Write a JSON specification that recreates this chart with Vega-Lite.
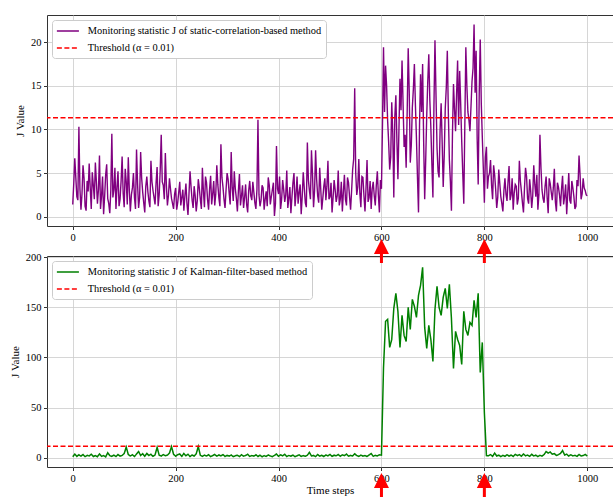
{
"$schema": "https://vega.github.io/schema/vega-lite/v6.json",
"background": "white",
"padding": {"left": 8, "top": 14, "right": 0, "bottom": 0},
"autosize": "pad",
"config": {
  "font": "Liberation Serif",
  "view": {"stroke": "#333", "strokeWidth": 1},
  "axis": {"grid": true, "gridColor": "#cccccc", "gridWidth": 0.8, "domain": false, "tickColor": "#333", "tickSize": 3.5, "labelFont": "Liberation Serif", "labelFontSize": 10.5, "labelColor": "#000", "labelPadding": 2.5, "titleFont": "Liberation Serif", "titleFontSize": 11, "titleFontWeight": "normal", "titleColor": "#000", "titlePadding": 5, "format": "d"},
  "legend": {"orient": "none", "legendX": 5, "legendY": 5, "fillColor": "white", "strokeColor": "#cccccc", "cornerRadius": 3, "padding": 4, "symbolType": "M-1,0H2.6", "symbolSize": 150, "symbolStrokeWidth": 1.5, "labelFont": "Liberation Serif", "labelFontSize": 10.4, "labelColor": "#000", "labelLimit": 400, "labelOffset": 17.75, "rowPadding": 4}
},
"datasets": {
  "d": [
{"t":0,"s":1.4,"k":0.8},{"t":4,"s":6.7,"k":3.5},{"t":8,"s":2.3,"k":1.2},{"t":12,"s":10.3,"k":2.8},{"t":16,"s":0.8,"k":1.5},{"t":20,"s":5.9,"k":3.0},{"t":24,"s":1.2,"k":1.0},{"t":28,"s":4.1,"k":2.2},{"t":32,"s":6.1,"k":1.6},{"t":36,"s":0.9,"k":3.4},
{"t":40,"s":3.6,"k":1.1},{"t":44,"s":6.2,"k":2.0},{"t":48,"s":1.5,"k":0.9},{"t":52,"s":7.0,"k":3.6},{"t":56,"s":2.4,"k":1.3},{"t":60,"s":0.3,"k":1.9},{"t":64,"s":4.8,"k":0.7},{"t":68,"s":2.1,"k":4.8},{"t":72,"s":0.4,"k":2.0},{"t":76,"s":9.5,"k":1.2},
{"t":80,"s":3.1,"k":2.5},{"t":84,"s":0.9,"k":1.0},{"t":88,"s":5.2,"k":3.1},{"t":92,"s":2.0,"k":1.4},{"t":96,"s":6.9,"k":2.2},{"t":100,"s":1.1,"k":4.0},{"t":104,"s":4.0,"k":10.5},{"t":108,"s":6.8,"k":3.0},{"t":112,"s":0.6,"k":1.6},{"t":116,"s":3.3,"k":2.8},
{"t":120,"s":2.2,"k":1.1},{"t":124,"s":7.7,"k":3.5},{"t":128,"s":1.0,"k":6.0},{"t":132,"s":7.4,"k":2.1},{"t":136,"s":2.8,"k":3.9},{"t":140,"s":0.5,"k":1.3},{"t":144,"s":4.6,"k":4.2},{"t":148,"s":1.8,"k":2.0},{"t":152,"s":6.4,"k":3.3},{"t":156,"s":3.0,"k":1.2},
{"t":160,"s":1.4,"k":2.7},{"t":164,"s":5.7,"k":10.2},{"t":168,"s":2.5,"k":2.4},{"t":172,"s":9.4,"k":1.5},{"t":176,"s":3.6,"k":3.0},{"t":180,"s":7.3,"k":1.9},{"t":184,"s":1.3,"k":2.4},{"t":188,"s":4.4,"k":4.5},{"t":192,"s":2.1,"k":11.0},{"t":196,"s":0.9,"k":3.2},
{"t":200,"s":3.3,"k":1.4},{"t":204,"s":1.6,"k":2.9},{"t":208,"s":4.0,"k":3.6},{"t":212,"s":2.2,"k":1.2},{"t":216,"s":0.7,"k":4.1},{"t":220,"s":3.8,"k":1.8},{"t":224,"s":0.2,"k":3.4},{"t":228,"s":5.2,"k":1.0},{"t":232,"s":1.9,"k":2.6},{"t":236,"s":3.5,"k":1.5},
{"t":240,"s":0.6,"k":3.8},{"t":244,"s":4.3,"k":11.0},{"t":248,"s":2.0,"k":2.3},{"t":252,"s":5.6,"k":1.2},{"t":256,"s":1.1,"k":2.4},{"t":260,"s":3.9,"k":1.6},{"t":264,"s":0.8,"k":2.9},{"t":268,"s":4.7,"k":0.9},{"t":272,"s":2.6,"k":2.0},{"t":276,"s":1.3,"k":3.1},
{"t":280,"s":5.9,"k":1.4},{"t":284,"s":2.2,"k":2.7},{"t":288,"s":8.3,"k":1.6},{"t":292,"s":3.4,"k":3.0},{"t":296,"s":1.0,"k":1.1},{"t":300,"s":5.0,"k":2.2},{"t":304,"s":2.7,"k":1.5},{"t":308,"s":7.4,"k":2.6},{"t":312,"s":1.8,"k":0.9},{"t":316,"s":3.2,"k":1.8},
{"t":320,"s":0.6,"k":2.3},{"t":324,"s":4.9,"k":1.0},{"t":328,"s":2.4,"k":2.9},{"t":332,"s":1.0,"k":1.4},{"t":336,"s":3.7,"k":2.1},{"t":340,"s":0.5,"k":3.4},{"t":344,"s":4.1,"k":1.2},{"t":348,"s":1.9,"k":2.0},{"t":352,"s":2.8,"k":1.5},{"t":356,"s":0.9,"k":2.8},
{"t":360,"s":11.1,"k":1.1},{"t":364,"s":1.2,"k":2.4},{"t":368,"s":3.6,"k":0.8},{"t":372,"s":0.8,"k":1.9},{"t":376,"s":2.9,"k":1.2},{"t":380,"s":4.5,"k":2.6},{"t":384,"s":1.4,"k":1.6},{"t":388,"s":3.1,"k":1.0},{"t":392,"s":0.1,"k":2.2},{"t":396,"s":8.1,"k":3.6},
{"t":400,"s":2.6,"k":1.3},{"t":404,"s":0.9,"k":2.8},{"t":408,"s":4.2,"k":1.7},{"t":412,"s":1.7,"k":3.3},{"t":416,"s":5.3,"k":1.0},{"t":420,"s":2.1,"k":2.1},{"t":424,"s":0.4,"k":1.4},{"t":428,"s":3.9,"k":2.5},{"t":432,"s":1.2,"k":0.9},{"t":436,"s":4.6,"k":1.8},
{"t":440,"s":2.8,"k":2.7},{"t":444,"s":0.3,"k":1.2},{"t":448,"s":5.1,"k":2.0},{"t":452,"s":1.6,"k":1.3},{"t":456,"s":8.5,"k":2.4},{"t":460,"s":3.0,"k":5.2},{"t":464,"s":7.6,"k":1.6},{"t":468,"s":1.1,"k":2.2},{"t":472,"s":7.6,"k":1.0},{"t":476,"s":2.4,"k":3.0},
{"t":480,"s":5.6,"k":1.5},{"t":484,"s":0.8,"k":2.3},{"t":488,"s":3.5,"k":1.1},{"t":492,"s":1.9,"k":2.6},{"t":496,"s":6.4,"k":1.7},{"t":500,"s":2.3,"k":3.2},{"t":504,"s":0.5,"k":1.2},{"t":508,"s":4.2,"k":2.4},{"t":512,"s":1.7,"k":1.8},{"t":516,"s":5.3,"k":3.1},
{"t":520,"s":2.0,"k":1.3},{"t":524,"s":0.6,"k":2.7},{"t":528,"s":4.8,"k":1.9},{"t":532,"s":1.3,"k":3.5},{"t":536,"s":3.9,"k":1.4},{"t":540,"s":0.8,"k":2.2},{"t":544,"s":5.4,"k":1.6},{"t":548,"s":14.7,"k":3.8},{"t":552,"s":2.5,"k":2.0},{"t":556,"s":6.6,"k":1.2},
{"t":560,"s":1.1,"k":2.5},{"t":564,"s":4.5,"k":1.5},{"t":568,"s":0.6,"k":2.0},{"t":572,"s":6.5,"k":1.1},{"t":576,"s":2.2,"k":2.6},{"t":580,"s":0.9,"k":4.0},{"t":584,"s":4.0,"k":1.3},{"t":588,"s":1.3,"k":2.2},{"t":592,"s":5.2,"k":1.6},{"t":596,"s":0.5,"k":2.8},
{"t":600,"s":3.2,"k":2.5},{"t":604,"s":19.4,"k":90},{"t":608,"s":17.3,"k":136},{"t":612,"s":11.0,"k":138},{"t":616,"s":5.4,"k":110},{"t":620,"s":13.1,"k":118},{"t":624,"s":2.2,"k":149},{"t":628,"s":13.9,"k":164},{"t":632,"s":4.3,"k":146},{"t":636,"s":15.8,"k":110},
{"t":640,"s":17.9,"k":142},{"t":644,"s":8.0,"k":122},{"t":648,"s":5.6,"k":116},{"t":652,"s":19.3,"k":150},{"t":656,"s":6.2,"k":128},{"t":660,"s":12.5,"k":158},{"t":664,"s":17.5,"k":151},{"t":668,"s":9.0,"k":140},{"t":672,"s":0.5,"k":162},{"t":676,"s":16.3,"k":172},
{"t":680,"s":17.5,"k":190},{"t":684,"s":2.0,"k":130},{"t":688,"s":11.6,"k":109},{"t":692,"s":18.6,"k":132},{"t":696,"s":10.2,"k":118},{"t":700,"s":2.2,"k":96},{"t":704,"s":20.2,"k":148},{"t":708,"s":7.9,"k":171},{"t":712,"s":4.5,"k":150},{"t":716,"s":13.0,"k":142},
{"t":720,"s":3.4,"k":160},{"t":724,"s":12.4,"k":169},{"t":728,"s":19.0,"k":149},{"t":732,"s":6.5,"k":173},{"t":736,"s":0.7,"k":139},{"t":740,"s":15.2,"k":89},{"t":744,"s":9.8,"k":126},{"t":748,"s":17.9,"k":118},{"t":752,"s":16.7,"k":112},{"t":756,"s":8.6,"k":93},
{"t":760,"s":1.5,"k":146},{"t":764,"s":19.4,"k":128},{"t":768,"s":12.0,"k":122},{"t":772,"s":9.8,"k":135},{"t":776,"s":15.5,"k":132},{"t":780,"s":22.0,"k":157},{"t":784,"s":19.0,"k":140},{"t":788,"s":3.7,"k":164},{"t":792,"s":20.3,"k":85},{"t":796,"s":9.1,"k":115},
{"t":800,"s":1.6,"k":45},{"t":804,"s":8.0,"k":2.0},{"t":808,"s":4.6,"k":1.8},{"t":812,"s":6.5,"k":3.0},{"t":816,"s":2.0,"k":1.2},{"t":820,"s":4.8,"k":4.5},{"t":824,"s":1.0,"k":1.6},{"t":828,"s":5.4,"k":2.4},{"t":832,"s":2.3,"k":1.0},{"t":836,"s":0.6,"k":2.2},
{"t":840,"s":4.4,"k":1.3},{"t":844,"s":1.8,"k":2.8},{"t":848,"s":5.8,"k":1.5},{"t":852,"s":2.5,"k":2.5},{"t":856,"s":0.8,"k":1.1},{"t":860,"s":3.7,"k":3.2},{"t":864,"s":1.4,"k":2.0},{"t":868,"s":6.4,"k":2.9},{"t":872,"s":2.9,"k":1.4},{"t":876,"s":0.5,"k":3.6},
{"t":880,"s":5.6,"k":1.8},{"t":884,"s":2.1,"k":2.5},{"t":888,"s":4.3,"k":1.2},{"t":892,"s":1.0,"k":3.3},{"t":896,"s":5.9,"k":1.6},{"t":900,"s":2.3,"k":2.4},{"t":904,"s":0.8,"k":1.0},{"t":908,"s":9.4,"k":2.2},{"t":912,"s":3.1,"k":1.5},{"t":916,"s":1.6,"k":3.0},
{"t":920,"s":4.6,"k":6.0},{"t":924,"s":0.4,"k":4.5},{"t":928,"s":3.8,"k":5.6},{"t":932,"s":1.9,"k":3.4},{"t":936,"s":5.5,"k":4.0},{"t":940,"s":0.6,"k":2.1},{"t":944,"s":3.4,"k":3.0},{"t":948,"s":1.2,"k":4.2},{"t":952,"s":4.7,"k":7.0},{"t":956,"s":2.3,"k":2.6},
{"t":960,"s":0.3,"k":3.4},{"t":964,"s":5.0,"k":1.5},{"t":968,"s":1.5,"k":2.8},{"t":972,"s":3.3,"k":1.7},{"t":976,"s":0.9,"k":2.3},{"t":980,"s":4.2,"k":1.2},{"t":984,"s":7.0,"k":3.1},{"t":988,"s":2.0,"k":1.6},{"t":992,"s":4.4,"k":2.0},{"t":996,"s":3.0,"k":3.2},
{"t":1000,"s":2.4,"k":1.5},
{"t":2,"s":3.8},{"t":6,"s":4.5},{"t":10,"s":1.9},{"t":14,"s":3.2},{"t":18,"s":2.6},{"t":22,"s":4.4},{"t":26,"s":0.7},{"t":30,"s":2.9},{"t":34,"s":3.3},{"t":38,"s":5.1},
{"t":42,"s":2.0},{"t":46,"s":4.0},{"t":50,"s":3.1},{"t":54,"s":0.9},{"t":58,"s":4.6},{"t":62,"s":2.3},{"t":66,"s":6.0},{"t":70,"s":1.5},{"t":74,"s":3.0},{"t":78,"s":2.2},
{"t":82,"s":5.6},{"t":86,"s":3.4},{"t":90,"s":1.2},{"t":94,"s":4.1},{"t":98,"s":2.7},{"t":102,"s":5.5},{"t":106,"s":1.4},{"t":110,"s":3.0},{"t":114,"s":2.5},{"t":118,"s":5.0},
{"t":122,"s":0.9},{"t":126,"s":3.8},{"t":130,"s":2.2},{"t":134,"s":4.4},{"t":138,"s":1.6},{"t":142,"s":3.5},{"t":146,"s":2.9},{"t":150,"s":1.1},{"t":154,"s":4.0},{"t":158,"s":2.2},
{"t":162,"s":3.9},{"t":166,"s":1.2},{"t":170,"s":5.3},{"t":174,"s":4.0},{"t":178,"s":2.0},{"t":182,"s":3.6},{"t":186,"s":2.4},{"t":190,"s":3.2},{"t":194,"s":1.5},{"t":198,"s":2.6},
{"t":202,"s":0.8},{"t":206,"s":2.8},{"t":210,"s":1.3},{"t":214,"s":3.1},{"t":218,"s":2.4},{"t":222,"s":1.5},{"t":226,"s":2.7},{"t":230,"s":3.4},{"t":234,"s":1.0},{"t":238,"s":2.4},
{"t":242,"s":1.8},{"t":246,"s":3.3},{"t":250,"s":0.9},{"t":254,"s":2.9},{"t":258,"s":4.6},{"t":262,"s":2.0},{"t":266,"s":3.2},{"t":270,"s":1.4},{"t":274,"s":4.1},{"t":278,"s":2.6},
{"t":282,"s":3.7},{"t":286,"s":1.2},{"t":290,"s":4.5},{"t":294,"s":2.0},{"t":298,"s":3.1},{"t":302,"s":4.3},{"t":306,"s":1.4},{"t":310,"s":3.3},{"t":314,"s":5.2},{"t":318,"s":2.1},
{"t":322,"s":3.0},{"t":326,"s":1.3},{"t":330,"s":3.6},{"t":334,"s":2.2},{"t":338,"s":1.4},{"t":342,"s":3.0},{"t":346,"s":2.4},{"t":350,"s":4.0},{"t":354,"s":1.6},{"t":358,"s":3.1},
{"t":362,"s":2.5},{"t":366,"s":1.9},{"t":370,"s":3.3},{"t":374,"s":2.0},{"t":378,"s":1.2},{"t":382,"s":3.6},{"t":386,"s":2.3},{"t":390,"s":3.9},{"t":394,"s":1.5},{"t":398,"s":3.2},
{"t":402,"s":4.6},{"t":406,"s":2.0},{"t":410,"s":3.1},{"t":414,"s":2.5},{"t":418,"s":1.0},{"t":422,"s":3.4},{"t":426,"s":2.2},{"t":430,"s":5.0},{"t":434,"s":2.6},{"t":438,"s":1.5},
{"t":442,"s":3.7},{"t":446,"s":2.3},{"t":450,"s":3.3},{"t":454,"s":1.1},{"t":458,"s":4.2},{"t":462,"s":2.0},{"t":466,"s":4.9},{"t":470,"s":3.0},{"t":474,"s":4.3},{"t":478,"s":1.6},
{"t":482,"s":3.2},{"t":486,"s":2.1},{"t":490,"s":4.4},{"t":494,"s":3.5},{"t":498,"s":2.0},{"t":502,"s":3.9},{"t":506,"s":2.2},{"t":510,"s":3.1},{"t":514,"s":2.4},{"t":518,"s":1.3},
{"t":522,"s":4.0},{"t":526,"s":2.8},{"t":530,"s":2.0},{"t":534,"s":4.5},{"t":538,"s":2.3},{"t":542,"s":3.0},{"t":546,"s":6.6},{"t":550,"s":5.0},{"t":554,"s":3.4},{"t":558,"s":2.7},
{"t":562,"s":4.6},{"t":566,"s":2.4},{"t":570,"s":3.3},{"t":574,"s":1.7},{"t":578,"s":4.1},{"t":582,"s":3.2},{"t":586,"s":2.4},{"t":590,"s":3.6},{"t":594,"s":2.5},{"t":598,"s":4.2},
{"t":602,"s":10.5},{"t":606,"s":12.0},{"t":610,"s":15.0},{"t":614,"s":8.5},{"t":618,"s":6.8},{"t":622,"s":9.6},{"t":626,"s":11.5},{"t":630,"s":8.8},{"t":634,"s":10.0},{"t":638,"s":12.2},
{"t":642,"s":13.0},{"t":646,"s":9.4},{"t":650,"s":12.0},{"t":654,"s":14.3},{"t":658,"s":8.2},{"t":662,"s":14.6},{"t":666,"s":12.8},{"t":670,"s":4.5},{"t":674,"s":10.5},{"t":678,"s":12.0},
{"t":682,"s":8.7},{"t":686,"s":6.5},{"t":690,"s":15.5},{"t":694,"s":13.4},{"t":698,"s":6.0},{"t":702,"s":12.7},{"t":706,"s":14.0},{"t":710,"s":5.2},{"t":714,"s":10.0},{"t":718,"s":8.5},
{"t":722,"s":7.0},{"t":726,"s":14.8},{"t":730,"s":11.9},{"t":734,"s":4.0},{"t":738,"s":9.5},{"t":742,"s":12.3},{"t":746,"s":14.0},{"t":750,"s":10.5},{"t":754,"s":12.9},{"t":758,"s":5.0},
{"t":762,"s":10.4},{"t":766,"s":15.0},{"t":770,"s":11.1},{"t":774,"s":12.6},{"t":778,"s":17.0},{"t":782,"s":14.2},{"t":786,"s":9.0},{"t":790,"s":14.0},{"t":794,"s":13.0},{"t":798,"s":5.5},
{"t":802,"s":6.8},{"t":806,"s":3.2},{"t":810,"s":5.0},{"t":814,"s":3.6},{"t":818,"s":5.9},{"t":822,"s":3.1},{"t":826,"s":2.2},{"t":830,"s":3.8},{"t":834,"s":1.5},{"t":838,"s":3.0},
{"t":842,"s":2.6},{"t":846,"s":4.0},{"t":850,"s":1.9},{"t":854,"s":4.4},{"t":858,"s":2.7},{"t":862,"s":3.5},{"t":866,"s":2.1},{"t":870,"s":4.1},{"t":874,"s":1.6},{"t":878,"s":3.3},
{"t":882,"s":4.6},{"t":886,"s":1.5},{"t":890,"s":3.0},{"t":894,"s":2.4},{"t":898,"s":3.7},{"t":902,"s":4.8},{"t":906,"s":2.5},{"t":910,"s":5.6},{"t":914,"s":2.1},{"t":918,"s":3.5},
{"t":922,"s":2.2},{"t":926,"s":4.4},{"t":930,"s":2.8},{"t":934,"s":3.3},{"t":938,"s":1.7},{"t":942,"s":3.9},{"t":946,"s":2.5},{"t":950,"s":3.2},{"t":954,"s":1.4},{"t":958,"s":3.7},
{"t":962,"s":2.6},{"t":966,"s":1.9},{"t":970,"s":4.1},{"t":974,"s":2.3},{"t":978,"s":1.2},{"t":982,"s":3.5},{"t":986,"s":4.8},{"t":990,"s":2.6},{"t":994,"s":3.3},{"t":998,"s":2.5}
  ],
  "arrows": [{"t": 600}, {"t": 800}],
  "thr": [{"thr": 11.34}]
},
"spacing": 30,
"bounds": "flush",
"resolve": {"scale": {"color": "independent", "strokeDash": "independent"}, "legend": {"color": "independent", "strokeDash": "independent"}},
"vconcat": [
  {
    "width": 566, "height": 211,
    "layer": [
      {
        "data": {"name": "d"},
        "mark": {"type": "line", "strokeWidth": 1.4},
        "encoding": {
          "x": {"field": "t", "type": "quantitative", "scale": {"domain": [-50, 1050], "nice": false, "zero": false}, "axis": {"values": [0, 200, 400, 600, 800, 1000], "title": null}},
          "y": {"field": "s", "type": "quantitative", "scale": {"domain": [-1.06, 23.1], "nice": false, "zero": false}, "axis": {"values": [0, 5, 10, 15, 20], "title": "J Value"}},
          "color": {"datum": "Monitoring statistic J of static-correlation-based method", "type": "nominal", "scale": {"domain": ["Monitoring statistic J of static-correlation-based method", "Threshold (α = 0.01)"], "range": ["#800080", "#ff0000"]}, "legend": {"title": null}},
          "strokeDash": {"datum": "Monitoring statistic J of static-correlation-based method", "type": "nominal", "scale": {"domain": ["Monitoring statistic J of static-correlation-based method", "Threshold (α = 0.01)"], "range": [[1, 0], [5, 2.5]]}, "legend": {"title": null}}
        }
      },
      {
        "data": {"name": "thr"},
        "mark": {"type": "rule", "strokeWidth": 1.5},
        "encoding": {
          "y": {"field": "thr", "type": "quantitative"},
          "color": {"datum": "Threshold (α = 0.01)", "type": "nominal"},
          "strokeDash": {"datum": "Threshold (α = 0.01)", "type": "nominal"}
        }
      }
    ]
  },
  {
    "width": 566, "height": 211,
    "layer": [
      {
        "data": {"name": "d"},
        "transform": [{"filter": "isValid(datum.k)"}],
        "mark": {"type": "line", "strokeWidth": 1.5},
        "encoding": {
          "x": {"field": "t", "type": "quantitative", "scale": {"domain": [-50, 1050], "nice": false, "zero": false}, "axis": {"values": [0, 200, 400, 600, 800, 1000], "title": "Time steps", "titlePadding": 1}},
          "y": {"field": "k", "type": "quantitative", "scale": {"domain": [-9.4, 201.3], "nice": false, "zero": false}, "axis": {"values": [0, 25, 50, 75, 100, 125, 150, 175, 200], "title": "J Value"}},
          "color": {"datum": "Monitoring statistic J of Kalman-filter-based method", "type": "nominal", "scale": {"domain": ["Monitoring statistic J of Kalman-filter-based method", "Threshold (α = 0.01)"], "range": ["#008000", "#ff0000"]}, "legend": {"title": null}},
          "strokeDash": {"datum": "Monitoring statistic J of Kalman-filter-based method", "type": "nominal", "scale": {"domain": ["Monitoring statistic J of Kalman-filter-based method", "Threshold (α = 0.01)"], "range": [[1, 0], [5, 2.5]]}, "legend": {"title": null}}
        }
      },
      {
        "data": {"name": "thr"},
        "mark": {"type": "rule", "strokeWidth": 1.5},
        "encoding": {
          "y": {"field": "thr", "type": "quantitative"},
          "color": {"datum": "Threshold (α = 0.01)", "type": "nominal"},
          "strokeDash": {"datum": "Threshold (α = 0.01)", "type": "nominal"}
        }
      },
      {
        "data": {"name": "arrows"},
        "mark": {"type": "point", "shape": "M0,-1L0.625,0.25L0.125,0.25L0.125,1L-0.125,1L-0.125,0.25L-0.625,0.25Z", "filled": true, "size": 576, "clip": false, "color": "#ff0000", "opacity": 1, "strokeWidth": 0},
        "encoding": {
          "x": {"field": "t", "type": "quantitative"},
          "y": {"datum": 206.3, "type": "quantitative"}
        }
      },
      {
        "data": {"name": "arrows"},
        "mark": {"type": "point", "shape": "M0,-1L0.625,0.25L0.125,0.25L0.125,1L-0.125,1L-0.125,0.25L-0.625,0.25Z", "filled": true, "size": 576, "clip": false, "color": "#ff0000", "opacity": 1, "strokeWidth": 0},
        "encoding": {
          "x": {"field": "t", "type": "quantitative"},
          "y": {"datum": -27.4, "type": "quantitative"}
        }
      }
    ]
  }
]
}
